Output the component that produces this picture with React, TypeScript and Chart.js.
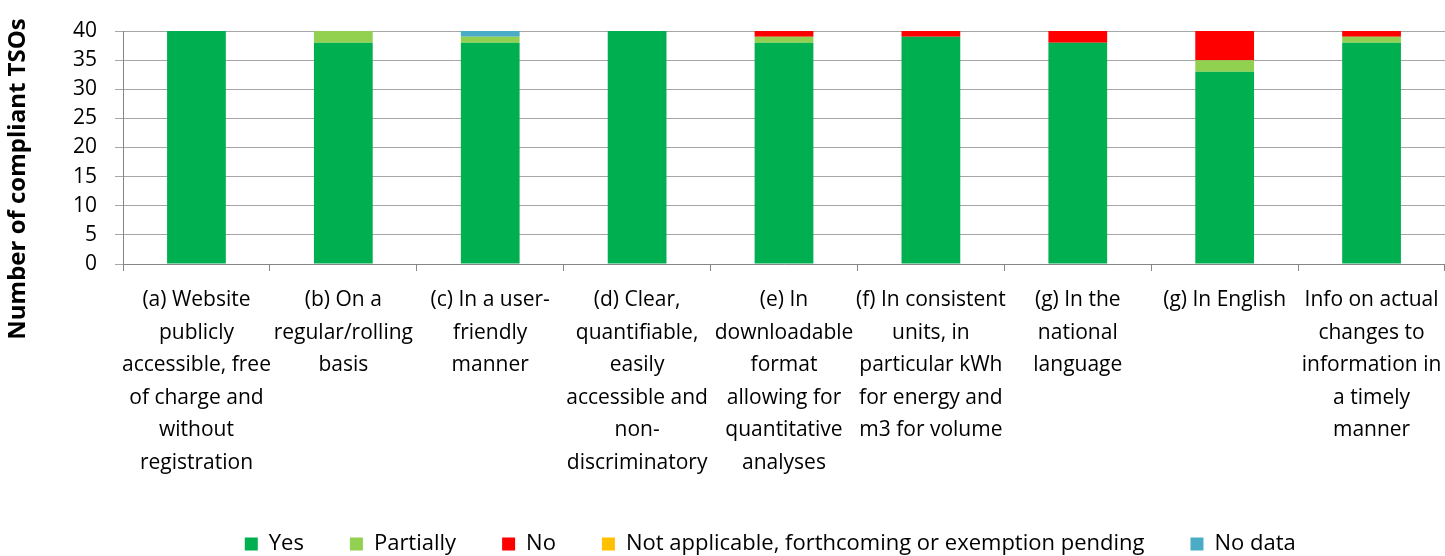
import React, { useEffect, useRef } from "react";
import { Chart, registerables } from "chart.js";

Chart.register(...registerables);

const categories: string[][] = [
  ["(a) Website", "publicly", "accessible, free", "of charge and", "without", "registration"],
  ["(b) On a", "regular/rolling", "basis"],
  ["(c) In a user-", "friendly", "manner"],
  ["(d) Clear,", "quantifiable,", "easily", "accessible and", "non-", "discriminatory"],
  ["(e) In", "downloadable", "format", "allowing for", "quantitative", "analyses"],
  ["(f) In consistent", "units, in", "particular kWh", "for energy and", "m3 for volume"],
  ["(g) In the", "national", "language"],
  ["(g) In English"],
  ["Info on actual", "changes to", "information in", "a timely", "manner"],
];

const yesValues = [40, 38, 38, 40, 38, 39, 38, 33, 38];
const partiallyValues = [0, 2, 1, 0, 1, 0, 0, 2, 1];
const noValues = [0, 0, 0, 0, 1, 1, 2, 5, 1];
const notApplicableValues = [0, 0, 0, 0, 0, 0, 0, 0, 0];
const noDataValues = [0, 0, 1, 0, 0, 0, 0, 0, 0];

const seriesNames = ["Yes", "Partially", "No", "Not applicable, forthcoming or exemption pending", "No data"];
const seriesColors = ["#00AF50", "#92D050", "#FF0000", "#FFC000", "#4BACC6"];

const yTicks = [0, 5, 10, 15, 20, 25, 30, 35, 40];
const yTitle = "Number of compliant TSOs";

const FONT = "'Open Sans', 'Noto Sans', sans-serif";
const W = 1445;
const H = 556;
const PLOT_BOTTOM = 264;
const LEGEND_CENTER = 544;
const LEGEND_PAD = 46;
const LEGEND_FONT = 22;
const LEGEND_DX = 45;

const legendShift = {
  id: "legendShift",
  afterLayout(chart: any) {
    const lg = chart.legend;
    if (!lg) return;
    const top = LEGEND_CENTER - LEGEND_PAD - LEGEND_FONT / 2;
    const dy = top - lg.top;
    lg.top += dy;
    lg.bottom += dy;
    lg.left += LEGEND_DX;
    lg.right += LEGEND_DX;
  },
};

const yTitlePlugin = {
  id: "yTitlePlugin",
  afterDraw(chart: any) {
    const ctx = chart.ctx;
    ctx.save();
    ctx.translate(25, 179);
    ctx.rotate(-Math.PI / 2);
    ctx.font = `bold 24px ${FONT}`;
    ctx.fillStyle = "#000";
    ctx.textAlign = "center";
    ctx.textBaseline = "alphabetic";
    ctx.fillText(yTitle, 0, 0);
    ctx.restore();
  },
};

export default function App() {
  const ref = useRef<HTMLCanvasElement | null>(null);

  useEffect(() => {
    if (!ref.current) return;
    const data = [yesValues, partiallyValues, noValues, notApplicableValues, noDataValues];
    const chart = new Chart(ref.current, {
      type: "bar",
      plugins: [legendShift, yTitlePlugin],
      data: {
        labels: categories,
        datasets: seriesNames.map((name, i) => ({
          label: name,
          data: data[i],
          backgroundColor: seriesColors[i],
          borderWidth: 0,
          barPercentage: 0.4,
          categoryPercentage: 1,
        })),
      },
      options: {
        responsive: false,
        animation: false,
        layout: { padding: { top: 31, right: -5.5, left: 0, bottom: 0 } },
        plugins: {
          tooltip: { enabled: false },
          legend: {
            position: "bottom",
            labels: {
              boxWidth: 13,
              boxHeight: 13,
              padding: LEGEND_PAD,
              color: "#000",
              font: { family: FONT, size: LEGEND_FONT },
            },
          },
        },
        scales: {
          x: {
            stacked: true,
            afterFit: (scale: any) => {
              const lh = scale.chart.legend ? scale.chart.legend.height : 0;
              scale.height = H - PLOT_BOTTOM - lh;
              scale.paddingLeft = 0;
              scale.paddingRight = 0;
            },
            grid: {
              offset: true,
              drawOnChartArea: false,
              drawTicks: true,
              tickLength: 7,
              color: "#868686",
            },
            border: { color: "#868686" },
            ticks: {
              color: "#000",
              font: { family: FONT, size: 21, lineHeight: 1.55 },
              padding: 13,
              maxRotation: 0,
              autoSkip: false,
            },
          },
          y: {
            stacked: true,
            min: 0,
            max: 40,
            afterFit: (scale: any) => {
              scale.width = 123;
            },
            afterBuildTicks: (scale: any) => {
              scale.ticks = yTicks.map((v) => ({ value: v }));
            },
            grid: {
              color: "#a6a6a6",
              tickLength: 8,
            },
            border: { color: "#868686" },
            ticks: {
              color: "#000",
              font: { family: FONT, size: 21 },
              padding: 18,
            },
          },
        },
      },
    });
    return () => chart.destroy();
  }, []);

  return (
    <div style={{ position: "fixed", left: 0, top: 0, width: W, height: H, background: "#fff" }}>
      <canvas ref={ref} width={W} height={H} />
    </div>
  );
}
